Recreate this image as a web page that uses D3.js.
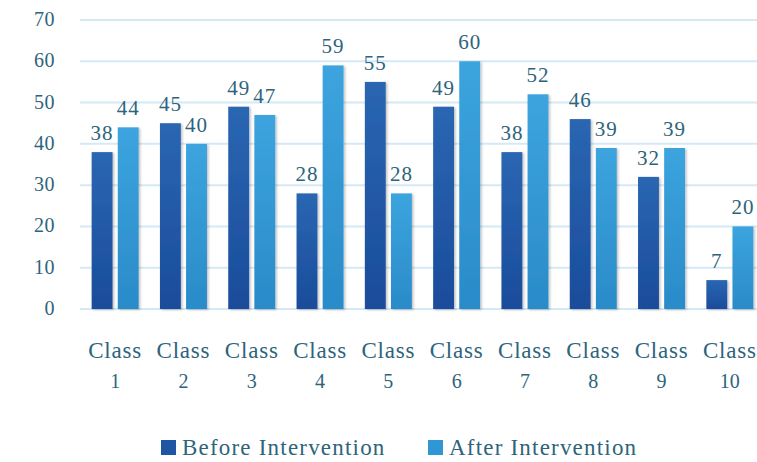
<!DOCTYPE html>
<html>
<head>
<script src="https://d3js.org/d3.v7.min.js"></script>
<style>
    body { margin: 0; background: #fff; }
    text { font-family: "Liberation Serif", "DejaVu Serif", serif; fill: #2d647c; }
</style>
</head>
<body>
<script>
var classes = ['1', '2', '3', '4', '5', '6', '7', '8', '9', '10'];
var before = [38, 45, 49, 28, 55, 49, 38, 46, 32, 7];
var after = [44, 40, 47, 59, 28, 60, 52, 39, 39, 20];
var seriesNames = ['Before Intervention', 'After Intervention'];
var yTicks = [0, 10, 20, 30, 40, 50, 60, 70];

var width = 757;
var height = 462;

var svg = d3.select('body')
    .append('svg')
    .attr('width', width)
    .attr('height', height);

// gradients for bars
var defs = svg.append('defs');
var grads = [['gBefore', '#2a66b2', '#1a4c9b'], ['gAfter', '#3ca4de', '#2a8bc9']];
grads.forEach(function (g) {
    var lg = defs.append('linearGradient')
        .attr('id', g[0])
        .attr('x1', 0).attr('y1', 0).attr('x2', 0).attr('y2', 1);
    lg.append('stop').attr('offset', '0%').attr('stop-color', g[1]);
    lg.append('stop').attr('offset', '100%').attr('stop-color', g[2]);
});
var shadow = defs.append('filter').attr('id', 'shadow')
    .attr('x', '-20%').attr('y', '-5%').attr('width', '150%').attr('height', '115%');
shadow.append('feDropShadow')
    .attr('dx', 1.5).attr('dy', 1).attr('stdDeviation', 1.2)
    .attr('flood-color', '#000').attr('flood-opacity', 0.25);

// scales
var x0 = d3.scaleBand()
    .domain(classes)
    .range([81, 764]);

var x1 = d3.scaleBand()
    .domain([0, 1])
    .range([-23.5, 23.5])
    .paddingInner(0.2);

var y = d3.scaleLinear()
    .domain([0, 70])
    .range([309, 20]);

// gridlines
svg.append('g')
    .selectAll('line')
    .data(yTicks)
    .enter()
    .append('line')
    .attr('x1', 80)
    .attr('x2', width)
    .attr('y1', d => y(d))
    .attr('y2', d => y(d))
    .attr('stroke', '#d4e9f6')
    .attr('stroke-width', 2);

// y axis labels
svg.append('g')
    .selectAll('text')
    .data(yTicks)
    .enter()
    .append('text')
    .attr('x', 55)
    .attr('y', d => y(d) + 6)
    .attr('text-anchor', 'end')
    .style('font-size', '20px')
    .style('letter-spacing', '0.5px')
    .text(d => d);

// bars
var data = classes.map((c, i) => ({ cls: c, vals: [before[i], after[i]] }));
var groups = svg.append('g')
    .selectAll('g')
    .data(data)
    .enter()
    .append('g')
    .attr('transform', d => 'translate(' + (x0(d.cls) + x0.bandwidth() / 2) + ',0)');

groups.selectAll('rect')
    .data(d => d.vals.map((v, k) => ({ k: k, v: v })))
    .enter()
    .append('rect')
    .attr('x', d => x1(d.k))
    .attr('y', d => y(d.v))
    .attr('width', x1.bandwidth())
    .attr('height', d => y(0) - y(d.v))
    .attr('fill', d => d.k == 0 ? 'url(#gBefore)' : 'url(#gAfter)')
    .attr('filter', 'url(#shadow)');

// value labels
groups.selectAll('text')
    .data(d => d.vals.map((v, k) => ({ k: k, v: v })))
    .enter()
    .append('text')
    .attr('x', d => x1(d.k) + x1.bandwidth() / 2)
    .attr('y', d => y(d.v) - 12)
    .attr('text-anchor', 'middle')
    .style('font-size', '21px')
    .style('letter-spacing', '1px')
    .text(d => d.v);

// x labels
var xl = svg.append('g')
    .selectAll('text')
    .data(classes)
    .enter()
    .append('text')
    .attr('text-anchor', 'middle')
    .style('font-size', '23px');
xl.append('tspan')
    .attr('x', d => x0(d) + x0.bandwidth() / 2)
    .attr('y', 358)
    .style('letter-spacing', '0.8px')
    .text('Class');
xl.append('tspan')
    .attr('x', d => x0(d) + x0.bandwidth() / 2)
    .attr('y', 388)
    .style('font-size', '20px')
    .text(d => d);

// legend
var legendX = [161, 428];
var legend = svg.append('g')
    .selectAll('g')
    .data(seriesNames)
    .enter()
    .append('g')
    .attr('transform', (d, i) => 'translate(' + legendX[i] + ',440)');
legend.append('rect')
    .attr('width', 15)
    .attr('height', 15)
    .attr('fill', (d, i) => i == 0 ? '#1f55a3' : '#2f97d4');
legend.append('text')
    .attr('x', 21)
    .attr('y', 15)
    .style('font-size', '23px')
    .style('letter-spacing', '1.2px')
    .text(d => d);
</script>
</body>
</html>
